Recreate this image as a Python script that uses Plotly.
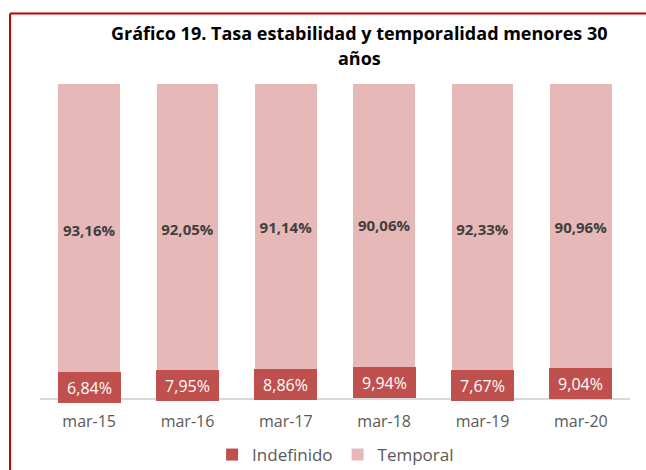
import plotly.graph_objects as go

categories = ["mar-15", "mar-16", "mar-17", "mar-18", "mar-19", "mar-20"]
indefinido = [6.84, 7.95, 8.86, 9.94, 7.67, 9.04]
temporal = [93.16, 92.05, 91.14, 90.06, 92.33, 90.96]
title_lines = ["Gráfico 19. Tasa estabilidad y temporalidad menores 30", "años"]

RED = "#C0504D"
PINK = "#E6B9B8"
FONT = "Open Sans"

fig = go.Figure()
fig.add_trace(go.Bar(
    x=categories, y=indefinido, name="Indefinido",
    marker=dict(color=RED, line=dict(width=0)),
    hoverinfo="skip",
))
fig.add_trace(go.Bar(
    x=categories, y=temporal, name="Temporal",
    marker=dict(color=PINK, line=dict(width=0)),
    texttemplate="<b>%{y:.2f}%</b>", textposition="inside",
    insidetextanchor="middle", textangle=0, constraintext="none",
    textfont=dict(family=FONT, size=15, color="#404040"),
    hoverinfo="skip",
))

annotations = []
for c, v in zip(categories, indefinido):
    annotations.append(dict(
        x=c, y=v / 2, xref="x", yref="y",
        text=f"{v:.2f}".replace(".", ",") + "%",
        showarrow=False, bgcolor=RED, bordercolor=RED, borderwidth=1,
        borderpad=0, width=61, height=29,
        font=dict(family=FONT, size=16, color="white"),
        xanchor="center", yanchor="middle",
    ))

for txt, yy in zip(title_lines, [1.1624, 1.0828]):
    annotations.append(dict(
        x=0.542, y=yy, xref="paper", yref="paper", text=f"<b>{txt}</b>",
        showarrow=False, xanchor="center", yanchor="middle",
        font=dict(family=FONT, size=18, color="#000000"),
    ))

fig.update_layout(
    width=646, height=470,
    margin=dict(l=40, r=16, t=84, b=72, autoexpand=False),
    barmode="stack", bargap=0.37,
    separators=",.",
    paper_bgcolor="white", plot_bgcolor="white",
    showlegend=True,
    legend=dict(orientation="h", x=0.501, xanchor="center", y=-0.1815, yanchor="middle",
                font=dict(family=FONT, size=17, color="#595959"),
                traceorder="normal", itemwidth=30),
    xaxis=dict(showline=True, linecolor="#D9D9D9", linewidth=1.5, ticks="",
               tickfont=dict(family=FONT, size=16, color="#595959"),
               ticklabelstandoff=8,
               showgrid=False, zeroline=False),
    yaxis=dict(range=[0, 100], visible=False, showgrid=False, zeroline=False),
    annotations=annotations,
    shapes=[dict(type="line", xref="paper", yref="paper",
                 x0=-0.0508, x1=1.2, y0=1.2245, y1=1.2245,
                 line=dict(color="#C00000", width=2)),
            dict(type="line", xref="paper", yref="paper",
                 x0=-0.0508, x1=-0.0508, y0=1.2245, y1=-0.3,
                 line=dict(color="#C00000", width=2))],
)

fig.write_html("out.html", config={"displayModeBar": False},
               post_script="document.body.style.margin='0';document.body.style.overflow='hidden';")
